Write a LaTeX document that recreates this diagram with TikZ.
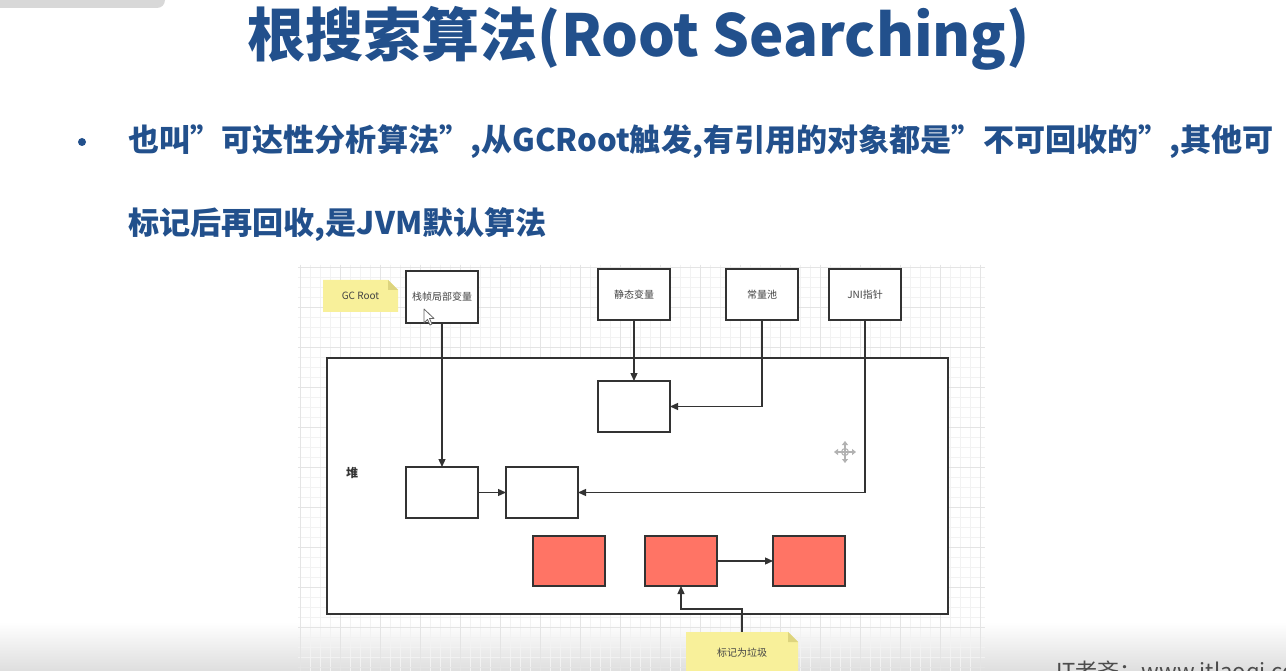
\documentclass[tikz,border=0pt]{standalone}
\usepackage{fontspec}
\setmainfont{Noto Sans CJK SC}
\usetikzlibrary{arrows.meta}
\definecolor{titleblue}{HTML}{22508C}
\definecolor{lineg}{HTML}{333333}
\definecolor{notey}{HTML}{F8F09A}
\definecolor{notefold}{HTML}{DDD47E}
\definecolor{garbage}{HTML}{FF7465}
\definecolor{gridminor}{HTML}{F2F2F2}
\definecolor{gridmajor}{HTML}{E4E4E4}
\definecolor{tabgray}{HTML}{D8D8D8}
\definecolor{labelgray}{HTML}{444444}

\begin{document}
\begin{tikzpicture}[x=1pt,y=-1pt,
  box/.style={draw=lineg, line width=1.5pt, fill=white,
    minimum width=72pt, minimum height=51pt, inner sep=0pt, outer sep=0pt,
    anchor=north west, font=\fontsize{10}{12}\selectfont, text=labelgray},
  redbox/.style={box, fill=garbage},
  heapbox/.style={draw=lineg, line width=1.5pt, fill=white,
    minimum width=621pt, minimum height=256pt, inner sep=0pt, outer sep=0pt,
    anchor=north west},
  note/.style={minimum width=#1, minimum height=32pt, inner sep=0pt,
    outer sep=0pt, anchor=north west, text=labelgray,
    font=\fontsize{10}{12}\selectfont,
    path picture={
      \fill[notey] (path picture bounding box.south west)
        -- (path picture bounding box.north west)
        -- ([xshift=-10pt]path picture bounding box.north east)
        -- ([yshift=-10pt]path picture bounding box.north east)
        -- (path picture bounding box.south east) -- cycle;
      \fill[notefold] ([xshift=-10pt]path picture bounding box.north east)
        -- ([yshift=-10pt]path picture bounding box.north east)
        -- ([xshift=-10pt,yshift=-10pt]path picture bounding box.north east)
        -- cycle;
    }},
  conn/.style={draw=lineg, line width=1.3pt,
    -{Triangle[length=8pt,width=7pt]}},
  bodytext/.style={anchor=west, inner sep=0pt, text=titleblue,
    font=\bfseries\fontsize{31.1}{36}\selectfont}
]
\useasboundingbox (0,0) rectangle (1286,671);
\fill[white] (0,0) rectangle (1286,671);

% soft shadow band along the bottom edge
\shade[top color=white, bottom color=black!13] (0,622) rectangle (1286,671);

% tab in the top-left corner
\fill[tabgray, rounded corners=8pt] (-20,-20) rectangle (165,8);

% drawing canvas grid
\begin{scope}
  \clip (298,265) rectangle (985,671);
  \foreach \gx in {300,310,...,990} \draw[gridminor, line width=0.8pt] (\gx,265) -- (\gx,671);
  \foreach \gy in {267,277,...,671} \draw[gridminor, line width=0.8pt] (298,\gy) -- (985,\gy);
  \foreach \gx in {300,340,...,990} \draw[gridmajor, line width=0.9pt] (\gx,265) -- (\gx,671);
  \foreach \gy in {267,307,...,671} \draw[gridmajor, line width=0.9pt] (298,\gy) -- (985,\gy);
\end{scope}

% title and bullet text
\node[text=titleblue, inner sep=0pt, font=\bfseries\fontsize{58}{60}\selectfont]
  (title) at (639,38) {根搜索算法(Root Searching)};
\fill[titleblue] (82,142) circle (4pt);
\node[bodytext] (line1) at (128,142)
  {也叫”可达性分析算法”,从GCRoot触发,有引用的对象都是”不可回收的”,其他可};
\node[bodytext] (line2) at (128,225) {标记后再回收,是JVM默认算法};

% heap region
\node[heapbox] (heap) at (327,358) {};
\node[anchor=center, inner sep=0pt, text=black!80,
  font=\bfseries\fontsize{12}{14}\selectfont] (heaplabel) at (352,473) {堆};

% GC roots
\node[box, minimum height=52pt] (stk) at (406,271) {栈帧局部变量};
\node[box] (stat) at (598,269) {静态变量};
\node[box] (pool) at (726,269) {常量池};
\node[box] (jni) at (829,269) {JNI指针};
\node[note=75pt] (gcroot) at (323,280) {GC Root};

% reachable objects
\node[box] (objc) at (598,381) {};
\node[box] (obja) at (406,467) {};
\node[box] (objb) at (506,467) {};

% unreachable objects
\node[redbox, minimum height=50pt] (r1) at (533,536) {};
\node[redbox, minimum height=50pt] (r2) at (645,536) {};
\node[redbox, minimum height=50pt] (r3) at (773,536) {};

\node[note=112pt, minimum height=42pt] (garb) at (686,632) {};
\node[text=labelgray, font=\fontsize{10}{12}\selectfont, inner sep=0pt]
  (garblabel) at (742,653) {标记为垃圾};

% references
\draw[conn] (stk.south) -- (stk.south |- obja.north);
\draw[conn] (stat.south) -- (stat.south |- objc.north);
\draw[conn] (pool.south) |- (objc.east);
\draw[conn] (jni.south) |- (objb.east);
\draw[conn] (obja.east) -- (objb.west);
\draw[conn] (r2.east) -- (r3.west);
\draw[conn] (garb.north) -- ++(0,-23) -| (r2.south);

% mouse pointer
\draw[fill=white, draw=black!60, line width=0.8pt, line join=round]
  (424,309) -- (424,323) -- (427.5,319.5) -- (430,325) -- (432,324)
  -- (429.5,318.5) -- (434,318.5) -- cycle;

% move cursor
\begin{scope}[draw=black!30, line width=1.6pt]
  \draw[{Triangle[length=4pt,width=6pt]}-{Triangle[length=4pt,width=6pt]}]
    (834,452) -- (856,452);
  \draw[{Triangle[length=4pt,width=6pt]}-{Triangle[length=4pt,width=6pt]}]
    (845,441) -- (845,463);
  \draw[line width=1pt] (845,452) circle (3.5pt);
\end{scope}

% channel watermark, cut by the lower edge
\begin{scope}
  \clip (0,0) rectangle (1286,671);
  \node[anchor=base west, inner sep=0pt, text=black!70,
    font=\fontsize{22}{26}\selectfont] (mark) at (1056,679)
    {IT老齐：www.itlaoqi.com};
\end{scope}
\end{tikzpicture}
\end{document}
